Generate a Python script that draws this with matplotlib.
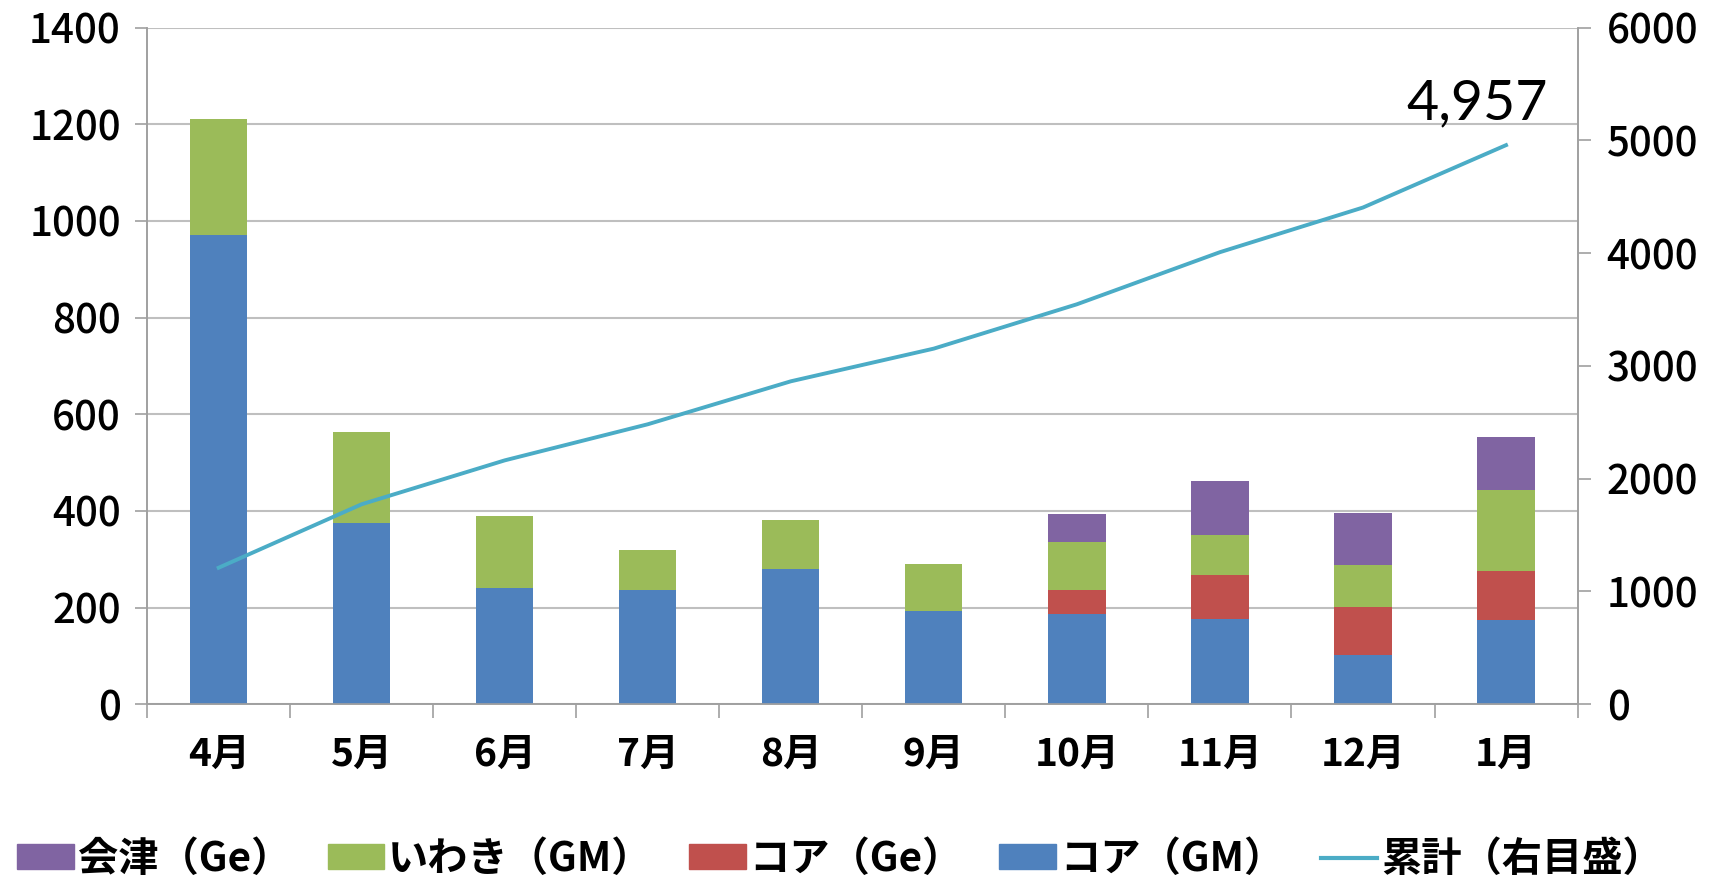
import numpy as np
import matplotlib
matplotlib.use("Agg")
import matplotlib.pyplot as plt
from matplotlib.patches import Patch
from matplotlib.lines import Line2D

plt.rcParams['font.family'] = ['Noto Sans CJK JP', 'DejaVu Sans']

# データ
months = ['4月', '5月', '6月', '7月', '8月', '9月', '10月', '11月', '12月', '1月']
core_gm = [971, 374, 240, 236, 280, 192, 187, 177, 102, 175]
core_ge = [0, 0, 0, 0, 0, 0, 50, 91, 99, 101]
iwaki_gm = [239, 189, 149, 84, 101, 98, 98, 83, 87, 167]
aizu_ge = [0, 0, 0, 0, 0, 0, 58, 111, 108, 110]

left_ticks = [0, 200, 400, 600, 800, 1000, 1200, 1400]
right_ticks = [0, 1000, 2000, 3000, 4000, 5000, 6000]

c_blue = '#4F81BD'
c_red = '#C0504D'
c_green = '#9BBB59'
c_purple = '#8064A2'
c_line = '#4BACC6'
c_grid = '#BFBFBF'

total = np.array(core_gm) + np.array(core_ge) + np.array(iwaki_gm) + np.array(aizu_ge)
cumulative = np.cumsum(total)

fig = plt.figure(figsize=(17.11, 8.88), dpi=100)
ax = fig.add_axes([0.086, 0.207, 0.836, 0.762])
ax2 = ax.twinx()

x = np.arange(len(months))
w = 0.4
b1 = np.array(core_gm)
b2 = b1 + np.array(core_ge)
b3 = b2 + np.array(iwaki_gm)
ax.bar(x, core_gm, w, color=c_blue, zorder=3)
ax.bar(x, core_ge, w, bottom=b1, color=c_red, zorder=3)
ax.bar(x, iwaki_gm, w, bottom=b2, color=c_green, zorder=3)
ax.bar(x, aizu_ge, w, bottom=b3, color=c_purple, zorder=3)

ax2.plot(x, cumulative, color=c_line, lw=2.8, zorder=4)
ax2.text(x[-1] - 0.2, cumulative[-1] + 140, f'{cumulative[-1]:,}', ha='center', va='bottom',
         fontsize=40, family=['Lato', 'DejaVu Sans'], fontweight='normal', color='black')

# 軸設定
ax.set_xlim(-0.5, len(months) - 0.5)
ax.set_ylim(0, 1400)
ax2.set_ylim(0, 6000)
ax.set_yticks(left_ticks)
ax2.set_yticks(right_ticks)
ax.set_xticks(x)
ax.set_xticklabels(months, fontsize=28, fontweight='bold')
ax.set_xticks(np.arange(-0.5, len(months), 1.0), minor=True)
ax.tick_params(axis='x', which='major', length=0, pad=22)
ax.tick_params(axis='x', which='minor', length=10, width=1.2, color='#A0A0A0')
ax.tick_params(axis='y', labelsize=29, length=9, width=1.2, color='#A0A0A0', pad=10)
ax2.tick_params(axis='y', labelsize=29, length=9, width=1.2, color='#A0A0A0', pad=12)
for lab in ax.get_yticklabels() + ax2.get_yticklabels():
    lab.set_fontweight('medium')

ax.yaxis.grid(True, color=c_grid, lw=1.5, zorder=0)
ax.set_axisbelow(True)
for a in (ax, ax2):
    a.spines['top'].set_visible(False)
    for s in ('left', 'right', 'bottom'):
        a.spines[s].set_color('#A0A0A0')
        a.spines[s].set_linewidth(1.2)

handles = [Patch(color=c_purple), Patch(color=c_green), Patch(color=c_red),
           Patch(color=c_blue), Line2D([0], [0], color=c_line, lw=3)]
labels = ['会津（Ge）', 'いわき（GM）', 'コア（Ge）', 'コア（GM）', '累計（右目盛）']
leg = fig.legend(handles, labels, loc='lower left', bbox_to_anchor=(-0.004, -0.018, 0.99, 0.08),
                 mode='expand', ncol=5, frameon=False, handlelength=1.4, handleheight=0.55,
                 handletextpad=0.1, borderaxespad=0.2,
                 prop={'size': 29, 'weight': 'bold', 'family': ['Noto Sans CJK JP', 'DejaVu Sans']})

fig.savefig('out.png', dpi=100)
